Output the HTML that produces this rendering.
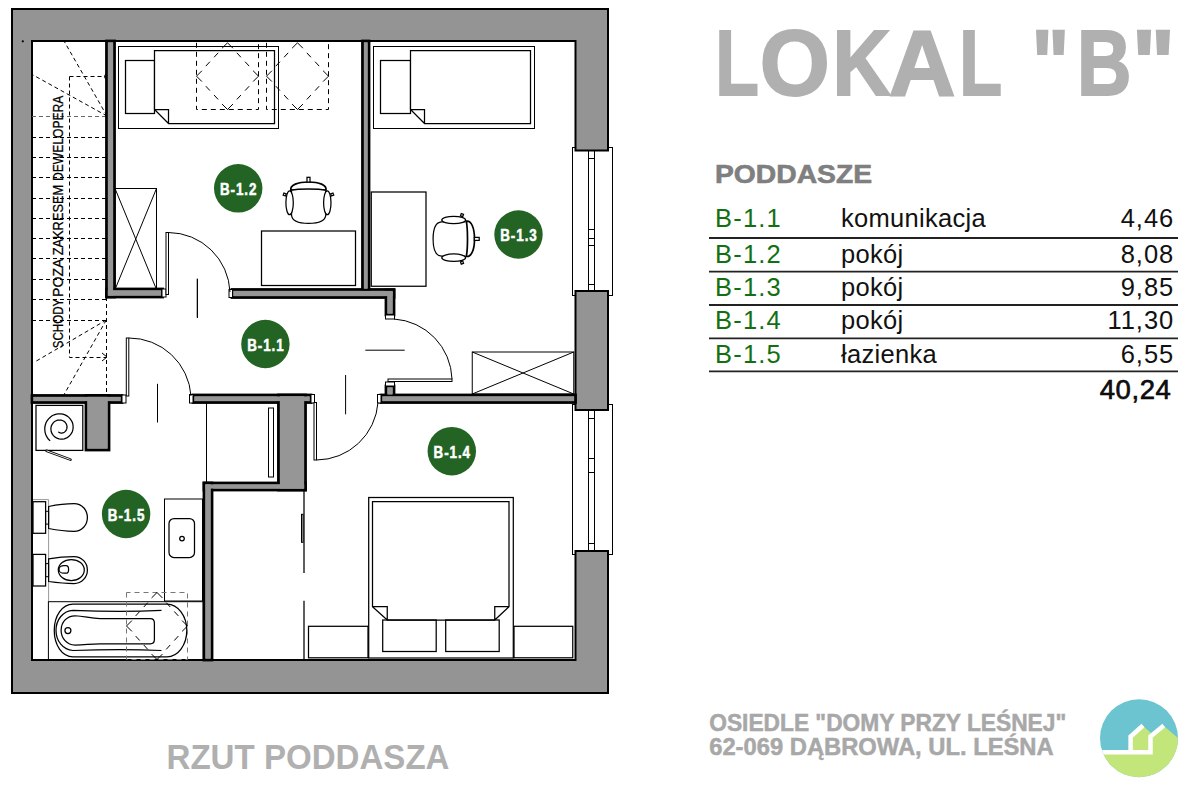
<!DOCTYPE html>
<html><head><meta charset="utf-8">
<style>
html,body{margin:0;padding:0;background:#fff;width:1200px;height:800px;overflow:hidden}
svg{position:absolute;left:0;top:0;display:block}
text{font-family:"Liberation Sans",sans-serif}
.w{fill:#949494;stroke:#000;stroke-width:2}
.iw{fill:#969696;stroke:#000;stroke-width:2.8}
.t{fill:none;stroke:#000;stroke-width:1}
.tw{fill:#fff;stroke:#000;stroke-width:1}
.m{fill:none;stroke:#000;stroke-width:1.25}
.d{fill:none;stroke:#000;stroke-width:1;stroke-dasharray:4 3}
.dg{fill:none;stroke:#666;stroke-width:1;stroke-dasharray:4 3}
.d2{fill:none;stroke:#000;stroke-width:1;stroke-dasharray:5 4}
.dg2{fill:none;stroke:#777;stroke-width:1;stroke-dasharray:5 4}
.dd{fill:none;stroke:#000;stroke-width:1;stroke-dasharray:0 9 6 4 6 4 6 30}
.c{fill:#236323}
.ct{fill:#fff;font-weight:bold;font-size:16px;stroke:#fff;stroke-width:0.5}
</style></head>
<body>
<svg width="1200" height="800" viewBox="0 0 1200 800">
<!-- WINDOWS -->
<g id="windows">
<rect class="tw" x="572.5" y="147.5" width="40" height="148"/>
<rect class="tw" x="588.5" y="150" width="6" height="141"/>
<path class="t" d="M588.5,158.5H594.5M588.5,229.5H594.5M588.5,238.5H594.5M588.5,245.5H594.5M588.5,284.5H594.5"/>
<rect class="tw" x="572.5" y="404.5" width="40" height="150"/>
<rect class="tw" x="588.5" y="410" width="6" height="141"/>
<path class="t" d="M588.5,418.5H594.5M588.5,458.5H594.5M588.5,472.5H594.5M588.5,543.5H594.5"/>
</g>
<!-- OUTER WALLS -->
<path class="w" d="M12,9H608V150.5H575.5V41H32V660H575.5V551H608V693H12Z"/>
<rect class="w" x="575.5" y="291" width="32.5" height="119"/>
<circle cx="22.8" cy="41.3" r="1.1" fill="#000"/>

<!-- STAIRS -->
<g id="stairs">
<path class="dg" d="M32,116.5H106.5"/>
<path class="d" d="M32,137.5H106.5M32,157.5H106.5M32,177.5H106.5M32,198.5H106.5M32,218.5H106.5M32,238.5H106.5M32,258.5H106.5M32,279.5H106.5M32,299.5H106.5M32,320.5H106.5"/>
<path class="d" d="M69.5,76.5V357.5H106.5M69.5,76.5H106.5M106.5,297V395"/>
<path class="d" d="M107,116L64,41M107,116L32,74.4M106.3,320L33.8,362.5M106.3,320L63.8,395"/>
<path class="t" d="M102,353L107,357L102,361"/>
<circle class="t" cx="107" cy="76.6" r="2.5"/>
<g font-size="14.5" fill="#000" stroke="#000" stroke-width="0.25">
<text transform="translate(63.2,348.2) rotate(-90)" textLength="49.4" lengthAdjust="spacingAndGlyphs">SCHODY</text>
<text transform="translate(63.2,296.9) rotate(-90)" textLength="38.3" lengthAdjust="spacingAndGlyphs">POZA</text>
<text transform="translate(63.2,255.3) rotate(-90)" textLength="70.5" lengthAdjust="spacingAndGlyphs">ZAKRESEM</text>
<text transform="translate(63.2,181.1) rotate(-90)" textLength="85.5" lengthAdjust="spacingAndGlyphs">DEWELOPERA</text>
</g>
</g>

<!-- INTERIOR WALLS -->
<g id="iwalls">
<rect class="iw" x="106.5" y="41" width="8" height="256"/>
<rect class="iw" x="106.5" y="289" width="56" height="8"/>
<rect class="iw" x="232" y="289.5" width="162" height="8"/>
<rect class="iw" x="362.5" y="41" width="6.5" height="249"/>
<rect class="iw" x="386" y="290" width="8" height="25"/>
<rect class="iw" x="386" y="386" width="8" height="10"/>
<rect class="iw" x="381" y="395" width="194.5" height="7.5"/>
<rect class="iw" x="32" y="395.5" width="90" height="7"/>
<rect class="iw" x="193" y="395" width="118" height="7.5"/>
<rect class="iw" x="86" y="395.5" width="23" height="54.5"/>
<rect class="iw" x="278.5" y="395" width="27" height="95"/>
<rect class="iw" x="204" y="483" width="101.5" height="7"/>
<rect class="iw" x="204" y="483" width="8" height="177"/>
<rect fill="#969696" x="107.9" y="42.4" width="5.2" height="253.2"/>
<rect fill="#969696" x="107.9" y="290.4" width="53.2" height="5.2"/>
<rect fill="#969696" x="233.4" y="290.9" width="159.2" height="5.2"/>
<rect fill="#969696" x="363.9" y="42.4" width="3.7" height="246.2"/>
<rect fill="#969696" x="387.4" y="291.4" width="5.2" height="22.2"/>
<rect fill="#969696" x="387.4" y="387.4" width="5.2" height="7.2"/>
<rect fill="#969696" x="382.4" y="396.4" width="191.7" height="4.7"/>
<rect fill="#969696" x="33.4" y="396.9" width="87.2" height="4.2"/>
<rect fill="#969696" x="194.4" y="396.4" width="115.2" height="4.7"/>
<rect fill="#969696" x="87.4" y="396.9" width="20.2" height="51.7"/>
<rect fill="#969696" x="279.9" y="396.4" width="24.2" height="92.2"/>
<rect fill="#969696" x="205.4" y="484.4" width="98.7" height="4.2"/>
<rect fill="#969696" x="205.4" y="484.4" width="5.2" height="174.2"/>
<rect class="tw" x="162" y="289" width="4" height="8"/>
<rect class="tw" x="229" y="289.5" width="3.5" height="8"/>
<rect class="tw" x="385.5" y="315" width="9" height="4"/>
<rect class="tw" x="385.5" y="382" width="9" height="4"/>
<rect class="tw" x="377.5" y="394.5" width="3.5" height="8.5"/>
<rect class="tw" x="122" y="395" width="4" height="8"/>
<rect class="tw" x="189.5" y="394.5" width="3.5" height="8.5"/>
<rect class="tw" x="311" y="394.5" width="3.5" height="8.5"/>
</g>

<!-- DOORS -->
<g id="doors">
<rect class="tw" x="166" y="232.5" width="2.5" height="62"/>
<path class="t" d="M168.5,232.5A62,62 0 0 1 230,292"/>
<path class="t" d="M197.4,279V318"/>
<rect class="tw" x="388" y="379" width="64" height="2.5"/>
<path class="t" d="M394,319A62,62 0 0 1 452,379"/>
<path class="t" d="M365.3,350.2H404.7M345.6,375V414.3"/>
<rect class="tw" x="126.3" y="338" width="2.5" height="58"/>
<path class="t" d="M128.8,338A62,62 0 0 1 191,396"/>
<path class="t" d="M157.5,383.8V422.5"/>
<path class="t" d="M197.3,278.6V317.5"/>
<rect class="tw" x="314" y="402.5" width="2.5" height="57.5"/>
<path class="t" d="M316.5,460A62,62 0 0 0 378,402.5"/>
</g>

<!-- FURNITURE -->
<g id="furn">
<!-- bed B-1.2 -->
<rect class="t" x="118.5" y="46.5" width="160" height="82"/>
<rect class="m" x="125.5" y="60.5" width="29" height="53"/>
<path class="m" d="M168.5,123.5L154.5,109.5V50.5H274.5V123.5ZM154.5,109.5H168.5V123.5" style="fill:#fff"/>
<!-- skylights -->
<path class="d2" d="M196.5,42.8V109.5H258.5V42.8"/>
<path class="t" d="M236.83,52.84L240.92,57.24M245.08,61.71L249.17,66.11M249.17,86.19L245.08,90.59M240.92,95.06L236.83,99.46M218.17,99.46L214.08,95.06M209.92,90.59L205.83,86.19M205.83,66.11L209.92,61.71M214.08,57.24L218.17,52.84"/>
<path class="t" d="M201.9,70.75L196.5,76.15L201.9,81.55000000000001M253.1,70.75L258.5,76.15L253.1,81.55000000000001M222.1,48.199999999999996L227.5,42.8L232.9,48.199999999999996M222.1,104.1L227.5,109.5L232.9,104.1"/>
<path class="d2" d="M266.5,42.8V109.5H328.5V42.8"/>
<path class="t" d="M306.83,52.84L310.92,57.24M315.08,61.71L319.17,66.11M319.17,86.19L315.08,90.59M310.92,95.06L306.83,99.46M288.17,99.46L284.08,95.06M279.92,90.59L275.83,86.19M275.83,66.11L279.92,61.71M284.08,57.24L288.17,52.84"/>
<path class="t" d="M271.9,70.75L266.5,76.15L271.9,81.55000000000001M323.1,70.75L328.5,76.15L323.1,81.55000000000001M292.1,48.199999999999996L297.5,42.8L302.9,48.199999999999996M292.1,104.1L297.5,109.5L302.9,104.1"/>
<!-- bed B-1.3 -->
<rect class="t" x="373.5" y="46.5" width="161" height="82"/>
<rect class="m" x="380.5" y="60.5" width="30" height="53"/>
<path class="m" d="M424.5,123.5L410.5,109.5V50.5H530.5V123.5ZM410.5,109.5H424.5V123.5" style="fill:#fff"/>
<!-- wardrobe B-1.2 -->
<rect class="t" x="115" y="188.5" width="41.5" height="101"/>
<path class="t" d="M115,188.5L156.5,289.5M156.5,188.5L115,289.5"/>
<!-- desk B-1.2 -->
<rect class="m" x="261.5" y="231" width="94" height="54.5"/>
<!-- chair B-1.2 -->
<g id="chair" class="m">
<path d="M291.5,191V215C292,221.5 300,223.4 308.5,223.4C317,223.4 325.3,221.5 325.8,215V191"/>
<path d="M290.8,190.2C289.8,185 298,182 308.5,182C319,182 327,185 326,190.2C318,188.6 299,188.6 290.8,190.2Z" stroke-width="1.7" fill="#fff"/>
<ellipse cx="289.6" cy="202.8" rx="3.7" ry="11.9" fill="#fff"/>
<ellipse cx="327.3" cy="202.8" rx="3.7" ry="11.9" fill="#fff"/>
<rect x="307" y="177.3" width="3" height="4.8" fill="#fff"/>
<rect x="283.5" y="193.3" width="2.4" height="2.4" transform="rotate(20 284.7 194.5)" fill="#fff"/>
<rect x="331" y="193.3" width="2.4" height="2.4" transform="rotate(-20 332.2 194.5)" fill="#fff"/>
</g>
<!-- desk B-1.3 -->
<rect class="m" x="371.25" y="192" width="54.75" height="94.25"/>
<!-- chair B-1.3 -->
<use href="#chair" transform="translate(456.2,238.9) rotate(90) translate(-308.5,-200.3)"/>
<!-- wardrobe B-1.3 -->
<rect class="t" x="472.25" y="352" width="101.5" height="42"/>
<path class="t" d="M472.25,352L573.75,394M573.75,352L472.25,394"/>
<!-- closet -->
<rect class="t" x="206.5" y="402.5" width="71.5" height="80.5"/>
<rect class="t" x="268.5" y="408" width="5" height="69"/>
<!-- sliding doors -->
<path class="m" d="M304,490V573M304,600.7V660"/>
<rect class="t" x="301.5" y="514.3" width="1.5" height="28"/>
<!-- double bed -->
<rect class="m" x="368.7" y="497.5" width="144.6" height="160.5"/>
<path class="m" d="M387.25,620L372.5,606.7V501.7H509V606.7L494.75,620ZM372.5,606.7H387.25V620M509,606.7H494.75V620"/>
<rect class="m" x="382.7" y="620" width="53.5" height="31.5"/>
<rect class="m" x="445.7" y="620" width="53.5" height="31.5"/>
<rect class="m" x="308.5" y="626.3" width="59.5" height="31.5"/>
<rect class="m" x="514" y="626.3" width="58.75" height="31.5"/>
<!-- bathroom -->
<rect class="m" x="36" y="405.4" width="46.8" height="45"/>
<path class="m" d="M50.1,440.9 L48.3,439.0 L46.9,436.9 L45.8,434.7 L45.1,432.3 L44.8,429.8 L44.8,427.4 L45.3,425.0 L46.0,422.7 L47.2,420.6 L48.6,418.8 L50.3,417.2 L52.1,415.8 L54.2,414.8 L56.3,414.1 L58.5,413.8 L60.7,413.8 L62.9,414.2 L65.0,414.9 L66.9,415.9 L68.6,417.1 L70.0,418.6 L71.2,420.3 L72.2,422.1 L72.8,424.0 L73.1,426.0 L73.1,427.9 L72.8,429.9 L72.3,431.7 L71.4,433.4 L70.3,434.9 L69.0,436.3 L67.6,437.4 L66.0,438.2 L64.3,438.8 L62.5,439.1 L60.8,439.1 L59.1,438.9 L57.5,438.4 L56.0,437.6 L54.6,436.7 L53.5,435.6 L52.5,434.3 L51.7,432.9 L51.2,431.5 L51.0,430.0 L50.9,428.5 L51.1,427.0 L51.5,425.6 L52.2,424.3 L53.0,423.1 L53.9,422.1 L55.0,421.3 L56.2,420.7 L57.4,420.2 L58.7,420.0 L59.9,420.0 L61.2,420.1 L62.3,420.5 L63.4,421.0 L64.4,421.6 L65.2,422.4 L65.9,423.3 L66.4,424.3 L66.8,425.3 L67.0,426.4 L67.0,427.4 L66.9,428.4 L66.6,429.3 L66.2,430.2 L65.6,431.0 L65.0,431.6 L64.3,432.2 L63.5,432.6 L62.7,432.8 L61.9,433.0 L61.1,433.0 L60.3,432.9 L59.6,432.6 L58.9,432.3 L58.4,431.8"/>
<path d="M46.5,450.8L70.5,459.6" stroke="#000" stroke-width="2.6" stroke-linecap="round"/><path d="M46.5,450.8L70.5,459.6" stroke="#fff" stroke-width="0.9"/>
<!-- toilets -->
<path d="M33,499.6H48.6V601" fill="none" stroke="#999" stroke-width="1"/>
<rect class="m" x="33" y="501.7" width="12.6" height="31.6" style="fill:#fff"/>
<rect class="t" x="45.6" y="511.3" width="3" height="12.8"/>
<path class="m" d="M48.6,506.5C56,505 66,503.7 74,503.7C82,503.7 87.4,510 87.4,517.5C87.4,525 82,531.3 74,531.3C66,531.3 56,530 48.6,528.5Z"/>
<rect class="m" x="33" y="554.4" width="12.6" height="31.6" style="fill:#fff"/>
<rect class="t" x="45.6" y="563.6" width="3" height="13.1"/>
<path class="m" d="M48.6,558.8C56,557.5 66,556.5 74,556.5C82,556.5 87.4,563 87.4,570C87.4,577 82,583.5 74,583.5C66,583.5 56,582.5 48.6,581.5Z"/>
<ellipse class="m" cx="71.3" cy="570.1" rx="13" ry="10.6"/>
<path class="m" d="M64,565.6H66C68,565.6 68.6,567.5 68.6,569.4C68.6,571.3 68,573.2 66,573.2H64C61,573.2 59,571.3 59,569.4C59,567.5 61,565.6 64,565.6Z"/>
<!-- vanity -->
<rect class="t" x="164.5" y="499" width="38" height="102"/>
<rect class="m" x="169" y="518.5" width="25.5" height="39" rx="5"/>
<circle class="m" cx="182" cy="538.6" r="2.3"/>
<!-- bathtub -->
<rect class="t" x="48.4" y="601.7" width="154.8" height="58"/>
<path class="m" d="M73,604H167C178,604 186.8,616 186.8,630.3C186.8,645 178,656.75 167,656.75H73C62,656.75 54.25,645 54.25,630.3C54.25,616 62,604 73,604Z"/>
<path class="m" d="M161.5,610.3C140,611.5 100,611.5 73,610.3C63,610.5 56,620 56,630.3C56,641 63,650 73,650.5C100,649.5 140,649.5 161.5,650.5"/>
<path class="m" d="M75,615.75C85,616 90,618.5 100,618.5H150.4C153,618.5 154.4,620 154.4,623V639.5C154.4,642.5 153,643.8 150.4,643.8H100C90,643.8 85,645 75,645C67,645 61.1,638 61.1,630.4C61.1,622 67,615.75 75,615.75Z"/>
<circle class="m" cx="67.9" cy="630.5" r="3"/>
<path class="dg2" d="M126.5,592.5V659.5H187.5V592.5H126.5"/>
<path class="t" d="M166.18,602.58L170.22,607.02M174.28,611.48L178.32,615.92M178.32,636.08L174.28,640.52M170.22,644.98L166.18,649.42M147.82,649.42L143.78,644.98M139.72,640.52L135.68,636.08M135.68,615.92L139.72,611.48M143.78,607.02L147.82,602.58"/>
<path class="t" d="M131.9,620.6L126.5,626.0L131.9,631.4M182.1,620.6L187.5,626.0L182.1,631.4M151.6,597.9L157.0,592.5L162.4,597.9M151.6,654.1L157.0,659.5L162.4,654.1"/>
</g>

<!-- ROOM LABELS -->
<g id="labels">
<circle class="c" cx="238.2" cy="188.3" r="24.2"/>
<text class="ct" transform="translate(238.2,194.9) scale(0.84,1)" text-anchor="middle" textLength="43.5" lengthAdjust="spacing">B-1.2</text>
<circle class="c" cx="518.5" cy="234.5" r="24.2"/>
<text class="ct" transform="translate(518.5,241.1) scale(0.84,1)" text-anchor="middle" textLength="43.5" lengthAdjust="spacing">B-1.3</text>
<circle class="c" cx="265.4" cy="344" r="24.2"/>
<text class="ct" transform="translate(265.4,350.6) scale(0.84,1)" text-anchor="middle" textLength="43.5" lengthAdjust="spacing">B-1.1</text>
<circle class="c" cx="451.8" cy="451.2" r="24.2"/>
<text class="ct" transform="translate(451.8,457.8) scale(0.84,1)" text-anchor="middle" textLength="43.5" lengthAdjust="spacing">B-1.4</text>
<circle class="c" cx="126.1" cy="514" r="24.2"/>
<text class="ct" transform="translate(126.1,520.6) scale(0.84,1)" text-anchor="middle" textLength="43.5" lengthAdjust="spacing">B-1.5</text>
</g>

<!-- TITLES -->
<g font-size="92.51" font-weight="bold" fill="#b0b0b0" stroke="#b0b0b0" stroke-width="2.0" stroke-linejoin="miter">
<text transform="translate(715.32,94.9) scale(0.7720,1)">L</text>
<text transform="translate(759.70,94.9) scale(0.9738,1)">O</text>
<text transform="translate(832.62,94.9) scale(0.8701,1)">K</text>
<text transform="translate(888.70,94.9) scale(0.9989,1)">A</text>
<text transform="translate(959.31,94.9) scale(0.7583,1)">L</text>
<text transform="translate(1031.80,94.9) scale(0.8526,1)">&quot;</text>
<text transform="translate(1076.95,94.9) scale(0.8153,1)">B</text>
<text transform="translate(1132.03,94.9) scale(0.9790,1)">&quot;</text>
</g>
<text x="715" y="183.3" font-size="25.5" font-weight="bold" fill="#7f7f7f" stroke="#7f7f7f" stroke-width="0.6" textLength="157" lengthAdjust="spacingAndGlyphs">PODDASZE</text>

<!-- TABLE -->
<g id="table" font-size="25.5">
<g fill="#127012" letter-spacing="1.2">
<text x="715" y="226.7">B-1.1</text>
<text x="715" y="262.8">B-1.2</text>
<text x="715" y="295.8">B-1.3</text>
<text x="715" y="329.2">B-1.4</text>
<text x="715" y="362.5">B-1.5</text>
</g>
<g fill="#111">
<text x="841" y="226.7" letter-spacing="0.3">komunikacja</text>
<text x="841" y="262.6" letter-spacing="0.3">pokój</text>
<text x="841" y="295.8" letter-spacing="0.3">pokój</text>
<text x="841" y="329.2" letter-spacing="0.3">pokój</text>
<text x="841" y="362.5" letter-spacing="0.3">łazienka</text>
<g text-anchor="end" letter-spacing="1">
<text x="1174.3" y="226.7">4,46</text>
<text x="1174.3" y="262.6">8,08</text>
<text x="1174.3" y="295.8">9,85</text>
<text x="1174.3" y="329.2">11,30</text>
<text x="1174.3" y="362.5">6,55</text>
</g>
<text x="1171.5" y="398.6" font-size="27.5" stroke="#000" stroke-width="0.6" text-anchor="end" letter-spacing="0.6">40,24</text>
</g>
<path d="M709,238H1178M709,271.7H1178M709,305H1178M709,338.3H1178M709,371.3H1178" stroke="#222" stroke-width="1.8" fill="none"/>
</g>

<!-- FOOTER -->
<text x="166.5" y="769" font-size="34.5" font-weight="bold" fill="#b0b0b0" textLength="283" lengthAdjust="spacingAndGlyphs">RZUT PODDASZA</text>
<text x="709.2" y="730.8" font-size="24" font-weight="bold" fill="#a8a8a8" stroke="#a8a8a8" stroke-width="0.5" textLength="357" lengthAdjust="spacingAndGlyphs">OSIEDLE "DOMY PRZY LEŚNEJ"</text>
<text x="709.2" y="754.7" font-size="24" font-weight="bold" fill="#a8a8a8" stroke="#a8a8a8" stroke-width="0.5" textLength="344.5" lengthAdjust="spacingAndGlyphs">62-069 DĄBROWA, UL. LEŚNA</text>

<!-- LOGO -->
<g id="logo">
<defs><clipPath id="lc"><circle cx="1139" cy="738.2" r="39"/></clipPath></defs>
<g clip-path="url(#lc)">
<rect x="1095" y="695" width="90" height="90" fill="#6cc4d0"/>
<path d="M1090,752H1130.6V737L1143,726L1151.5,733.5V737L1163.8,726L1190,748V790H1090Z" fill="#c3e67a"/>
<path d="M1090,752.2H1150.5V736.5L1163.8,725.5M1130.6,752.2V736.5L1143,725.5" fill="none" stroke="#fff" stroke-width="4.5" stroke-linejoin="miter"/>
</g>
</g>
</svg>
</body></html>
